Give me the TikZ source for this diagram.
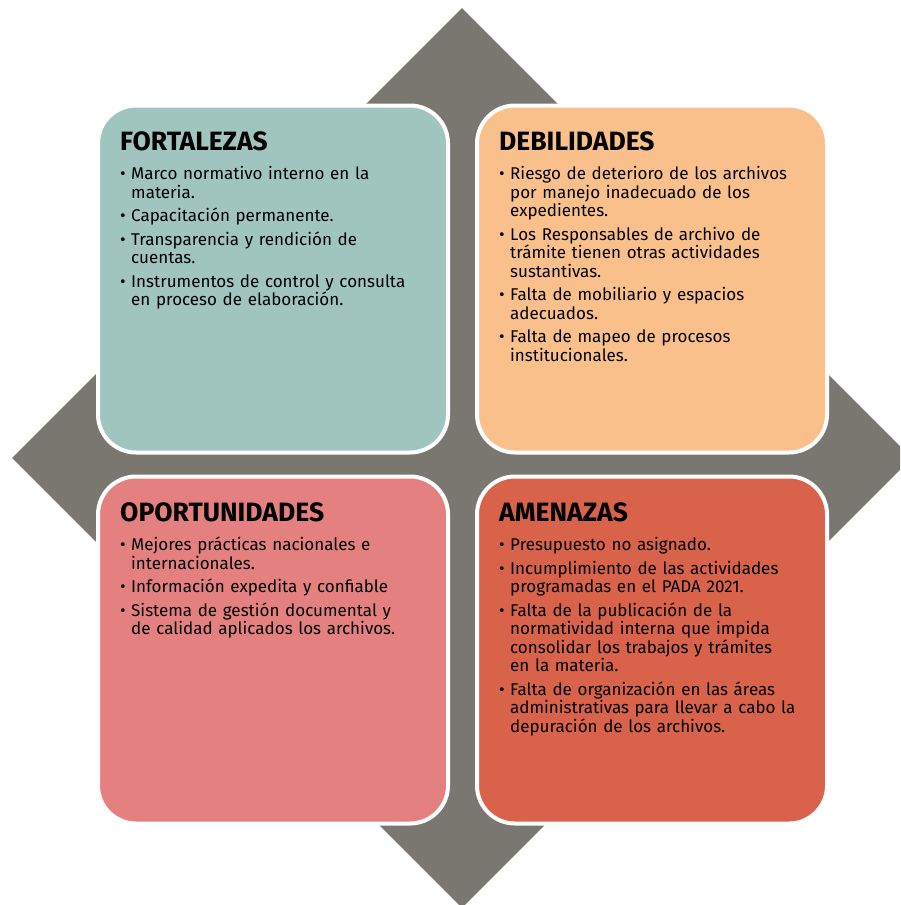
\documentclass[tikz,border=0pt]{standalone}
\usepackage{fontspec}
\setmainfont{Fira Sans}
\usepackage{xcolor}
\definecolor{Gris}{HTML}{7A7770}
\definecolor{Verde}{HTML}{A0C4BE}
\definecolor{Naranja}{HTML}{FAC08C}
\definecolor{Rosa}{HTML}{E48080}
\definecolor{Rojo}{HTML}{D8624A}
\usepackage{tikz}
\usetikzlibrary{shapes.geometric, positioning}

% one bullet entry with a hanging indent
\newcommand\punto{\par\vspace{5pt}\hangindent=11pt\hangafter=1\noindent\hbox to 11pt{\textbullet\hfil}}
\newcommand\titulo[1]{{\fontsize{26.5}{30}\selectfont\bfseries #1}\par\vspace{5.5pt}}

\begin{document}
\begin{tikzpicture}[
  x=1pt, y=-1pt,
  node distance=20pt and 25pt,
  rombo/.style={
    diamond, aspect=1, inner sep=0pt,
    minimum width=900pt, minimum height=900pt,
    fill=Gris
  },
  cuadro/.style={
    rectangle, rounded corners=38pt,
    minimum width=350pt, minimum height=347pt,
    draw=white, line width=4pt
  },
  texto/.style={
    anchor=north west, inner sep=0pt,
    text width=320pt, align=left,
    font=\fontsize{17}{18.5}\selectfont
  },
]

\useasboundingbox (0,0) rectangle (900,905);
\clip (0,0) rectangle (900,905);

\node[rombo] (centro) at (462,458) {};

\node[cuadro, fill=Verde] (fort) at (273,279) {};
\node[cuadro, fill=Naranja, right=of fort] (debil) {};
\node[cuadro, fill=Rosa, below=of fort] (opor) {};
\node[cuadro, fill=Rojo, below=of debil] (amen) {};

\node[texto] (fortxt) at ([xshift=24pt, yshift=-28pt]fort.north west) {%
  \titulo{FORTALEZAS}
  \punto Marco normativo interno en la\newline materia.
  \punto Capacitación permanente.
  \punto Transparencia y rendición de\newline cuentas.
  \punto Instrumentos de control y consulta\newline en proceso de elaboración.\par};

\node[texto] (debtxt) at ([xshift=24pt, yshift=-28pt]debil.north west) {%
  \titulo{DEBILIDADES}
  \punto Riesgo de deterioro de los archivos\newline por manejo inadecuado de los\newline expedientes.
  \punto Los Responsables de archivo de\newline trámite tienen otras actividades\newline sustantivas.
  \punto Falta de mobiliario y espacios\newline adecuados.
  \punto Falta de mapeo de procesos\newline institucionales.\par};

\node[texto] (oportxt) at ([xshift=24pt, yshift=-28pt]opor.north west) {%
  \titulo{OPORTUNIDADES}
  \punto Mejores prácticas nacionales e\newline internacionales.
  \punto Información expedita y confiable
  \punto Sistema de gestión documental y\newline de calidad aplicados los archivos.\par};

\node[texto] (amentxt) at ([xshift=24pt, yshift=-28pt]amen.north west) {%
  \titulo{AMENAZAS}
  \punto Presupuesto no asignado.
  \punto Incumplimiento de las actividades\newline programadas en el PADA 2021.
  \punto Falta de la publicación de la\newline normatividad interna que impida\newline consolidar los trabajos y trámites\newline en la materia.
  \punto Falta de organización en las áreas\newline administrativas para llevar a cabo la\newline depuración de los archivos.\par};

\end{tikzpicture}
\end{document}
